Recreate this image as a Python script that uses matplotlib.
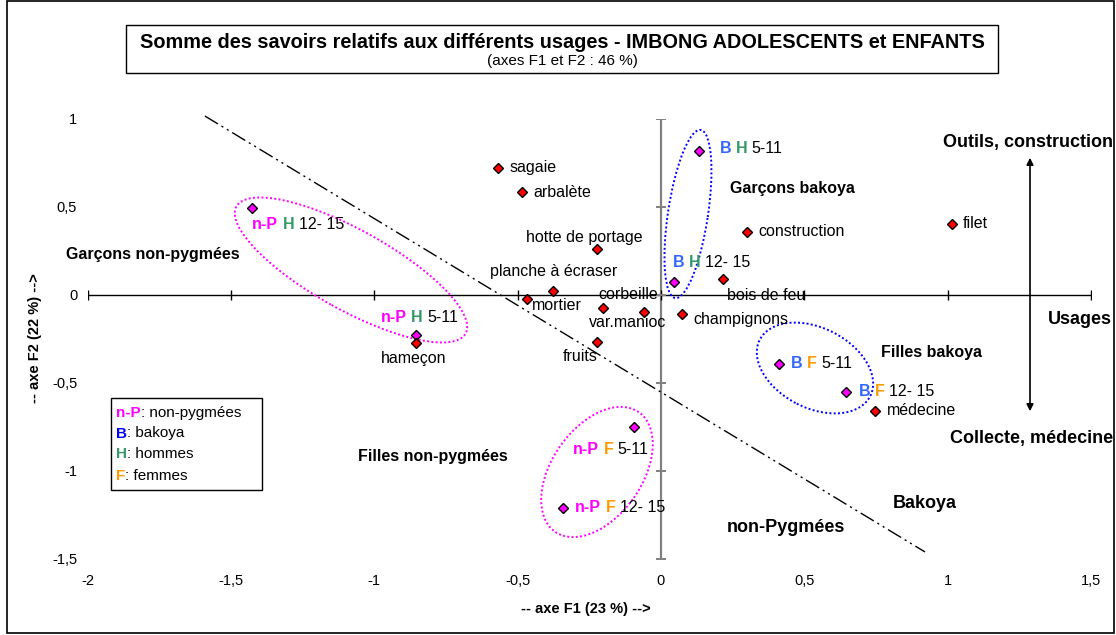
import matplotlib
matplotlib.use('Agg')
import matplotlib.pyplot as plt
from matplotlib.patches import Ellipse, Rectangle, FancyArrowPatch
from matplotlib.offsetbox import TextArea, HPacker, AnnotationBbox
from matplotlib.transforms import Affine2D

plt.rcParams['font.family'] = ['Liberation Sans', 'DejaVu Sans']

# usages (points rouges)
usage_names = ['sagaie', 'arbalète', 'hotte de portage', 'planche à écraser', 'mortier',
               'corbeille', 'var.manioc', 'fruits', 'champignons', 'bois de feu',
               'construction', 'filet', 'médecine', 'hameçon']
usage_f1 = [-0.569, -0.486, -0.222, -0.376, -0.468, -0.203, -0.059, -0.222, 0.074, 0.215,
            0.300, 1.016, 0.745, -0.856]
usage_f2 = [0.722, 0.584, 0.260, 0.023, -0.023, -0.072, -0.095, -0.265, -0.108, 0.089,
            0.359, 0.405, -0.659, -0.274]

# groupes (points magenta)
group_pop = ['n-P', 'n-P', 'B', 'B', 'B', 'B', 'n-P', 'n-P']
group_sex = ['H', 'H', 'H', 'H', 'F', 'F', 'F', 'F']
group_age = ['12- 15', '5-11', '5-11', '12- 15', '5-11', '12- 15', '5-11', '12- 15']
group_f1 = [-1.426, -0.856, 0.134, 0.047, 0.411, 0.647, -0.094, -0.341]
group_f2 = [0.496, -0.229, 0.816, 0.076, -0.391, -0.550, -0.748, -1.209]

# separation bakoya / non-pygmees
sep_f1 = [-1.591, 0.921]
sep_f2 = [1.017, -1.460]

x_ticks = [-2, -1.5, -1, -0.5, 0, 0.5, 1, 1.5]
y_ticks = [-1.5, -1, -0.5, 0, 0.5, 1]

legend_codes = ['n-P', 'B', 'H', 'F']
legend_names = [': non-pygmées', ': bakoya', ': hommes', ': femmes']

C_NP = '#FF00FF'
C_B = '#3366FF'
C_H = '#339966'
C_F = '#FF9900'
code_colors = {'n-P': C_NP, 'B': C_B, 'H': C_H, 'F': C_F}

W, H = 1116, 635
SX, SY = 286.7, 176.0   # pixels par unite


def fig_xy(px, py):
    return px / W, 1 - py / H


def fr(v):
    return ('%g' % v).replace('.', ',')


def rich(parts, size, sep=3.2):
    boxes = [TextArea(t, textprops=dict(color=c, fontweight=w, fontsize=size)) for t, c, w in parts]
    return HPacker(children=boxes, sep=sep, pad=0, align='baseline')


fig = plt.figure(figsize=(W / 100, H / 100), dpi=100)
ax = fig.add_axes([87.6 / W, (H - 559) / H, (1091 - 87.6) / W, (559 - 119) / H])
ax.set_xlim(-2, 1.5)
ax.set_ylim(-1.5, 1)
for s in ax.spines.values():
    s.set_visible(False)
ax.set_xticks(x_ticks, labels=[fr(v) for v in x_ticks])
ax.set_yticks(y_ticks, labels=[fr(v) for v in y_ticks])
ax.tick_params(axis='x', length=0, pad=11, labelsize=10.5)
ax.tick_params(axis='y', length=0, pad=7.5, labelsize=10.5)

# axes qui se croisent en 0
ax.axhline(0, color='black', lw=1, zorder=1)
ax.axvline(0, color='#808080', lw=1.6, zorder=1)
ax.plot(x_ticks, [0] * len(x_ticks), ls='none', marker='|', ms=7, mew=1, color='black', zorder=1)
ax.plot([0] * len(y_ticks), y_ticks, ls='none', marker='_', ms=7, mew=1.4, color='#808080', zorder=1)

ax.plot(sep_f1, sep_f2, color='black', lw=1, dashes=[11, 3, 1.5, 3, 1.5, 3], clip_on=False, zorder=2)

# ellipses des groupes (definies en pixels)
ell_centers = [(351, 270), (688, 214), (815, 368), (597, 472)]
ell_axes = [(131, 40), (85, 20), (62, 40), (73, 45)]
ell_angles = [-29, 81.4, -27, 55]
ell_colors = [C_NP, '#0000FF', '#0000FF', C_NP]
tr = Affine2D().scale(1 / SX, 1 / SY) + ax.transData
for (px, py), (a, b), ang, col in zip(ell_centers, ell_axes, ell_angles, ell_colors):
    cx, cy = (px - 661) * 1.0, (295 - py) * 1.0
    e = Ellipse((cx, cy), 2 * a, 2 * b, angle=ang, fill=False, edgecolor=col,
                lw=1.4, ls=(0, (1, 1.2)), transform=tr, zorder=3)
    ax.add_patch(e)

ax.plot(group_f1, group_f2, ls='none', marker='D', ms=5.5, mfc=C_NP, mec='black', mew=1, zorder=4)
ax.plot(usage_f1, usage_f2, ls='none', marker='D', ms=5.5, mfc='#FF0000', mec='black', mew=1, zorder=5)

usage_offsets = [(12, 0, 'left'), (12, 0, 'left'), (-13, 12, 'center'), (0, 19, 'center'),
                 (5, -6, 'left'), (-4, 13, 'left'), (-16, -11, 'center'), (-17, -15, 'center'),
                 (11, -5, 'left'), (4, -16, 'left'), (11, 0, 'left'), (11, 0, 'left'),
                 (12, 0, 'left'), (-2, -15, 'center')]
for name, x, y, (dx, dy, ha) in zip(usage_names, usage_f1, usage_f2, usage_offsets):
    ax.annotate(name, (x, y), xytext=(dx * 0.72, dy * 0.72), textcoords='offset points',
                ha=ha, va='center', fontsize=11.5, zorder=6)

group_offsets = [(0, -17), (-35, 18), (20, 3), (-2, 19), (12, 0), (12, 0), (-61, -23), (12, 0)]
for pop, sex, age, x, y, (dx, dy) in zip(group_pop, group_sex, group_age, group_f1, group_f2, group_offsets):
    box = rich([(pop, code_colors[pop], 'bold'), (sex, code_colors[sex], 'bold'), (age, 'black', 'normal')], 11.5)
    ab = AnnotationBbox(box, (x, y), xybox=(dx * 0.72, dy * 0.72), xycoords='data',
                        boxcoords='offset points', box_alignment=(0, 0.5), frameon=False, pad=0, zorder=6)
    ax.add_artist(ab)

# textes des groupes
group_texts = [('Garçons non-pygmées', 66, 255, 'left', 11.5), ('Garçons bakoya', 730, 189, 'left', 11.5),
               ('Filles bakoya', 881, 352, 'left', 11.5), ('Filles non-pygmées', 358, 456, 'left', 11.5),
               ('Bakoya', 893, 503, 'left', 13), ('non-Pygmées', 727, 527, 'left', 13),
               ('Outils, construction', 1113, 143, 'right', 13), ('Usages', 1112, 320, 'right', 13),
               ('Collecte, médecine', 1113, 439, 'right', 13)]
for t, px, py, ha, fs in group_texts:
    fig.text(*fig_xy(px, py), t, ha=ha, va='center', fontsize=fs, fontweight='bold')

arr = FancyArrowPatch(fig_xy(1030, 414), fig_xy(1030, 155), arrowstyle='<|-|>', mutation_scale=10,
                      lw=1.2, color='black', transform=fig.transFigure)
fig.add_artist(arr)

# titre
fig.add_artist(Rectangle(fig_xy(126, 73), (998 - 126) / W, 48 / H, transform=fig.transFigure,
                         fill=False, lw=1, edgecolor='black'))
fig.text(*fig_xy(562, 42), 'Somme des savoirs relatifs aux différents usages - IMBONG ADOLESCENTS et ENFANTS',
         ha='center', va='center', fontsize=14.3, fontweight='bold')
fig.text(*fig_xy(562, 61), '(axes F1 et F2 : 46 %)', ha='center', va='center', fontsize=11)

fig.text(*fig_xy(586, 609), '-- axe F1 (23 %) -->', ha='center', va='center', fontsize=10.5, fontweight='bold')
fig.text(*fig_xy(35, 338), '-- axe F2 (22 %) -->', ha='center', va='center', rotation=90,
         fontsize=10.5, fontweight='bold')

# legende
fig.add_artist(Rectangle(fig_xy(111, 490), (262 - 111) / W, (490 - 398) / H, transform=fig.transFigure,
                         fill=False, lw=1, edgecolor='black'))
legend_y = [412.7, 433.5, 454.5, 475.5]
for code, name, py in zip(legend_codes, legend_names, legend_y):
    col = '#0000FF' if code == 'B' else code_colors[code]
    box = rich([(code, col, 'bold'), (name, 'black', 'normal')], 11, sep=0)
    ab = AnnotationBbox(box, fig_xy(116, py), xycoords='figure fraction', box_alignment=(0, 0.5),
                        frameon=False, pad=0, annotation_clip=False)
    fig.add_artist(ab)

# cadre exterieur
fig.add_artist(Rectangle(fig_xy(7, 633), (1114 - 7) / W, (633 - 1) / H, transform=fig.transFigure,
                         fill=False, lw=1.2, edgecolor='black'))

fig.savefig('out.png', dpi=100)
